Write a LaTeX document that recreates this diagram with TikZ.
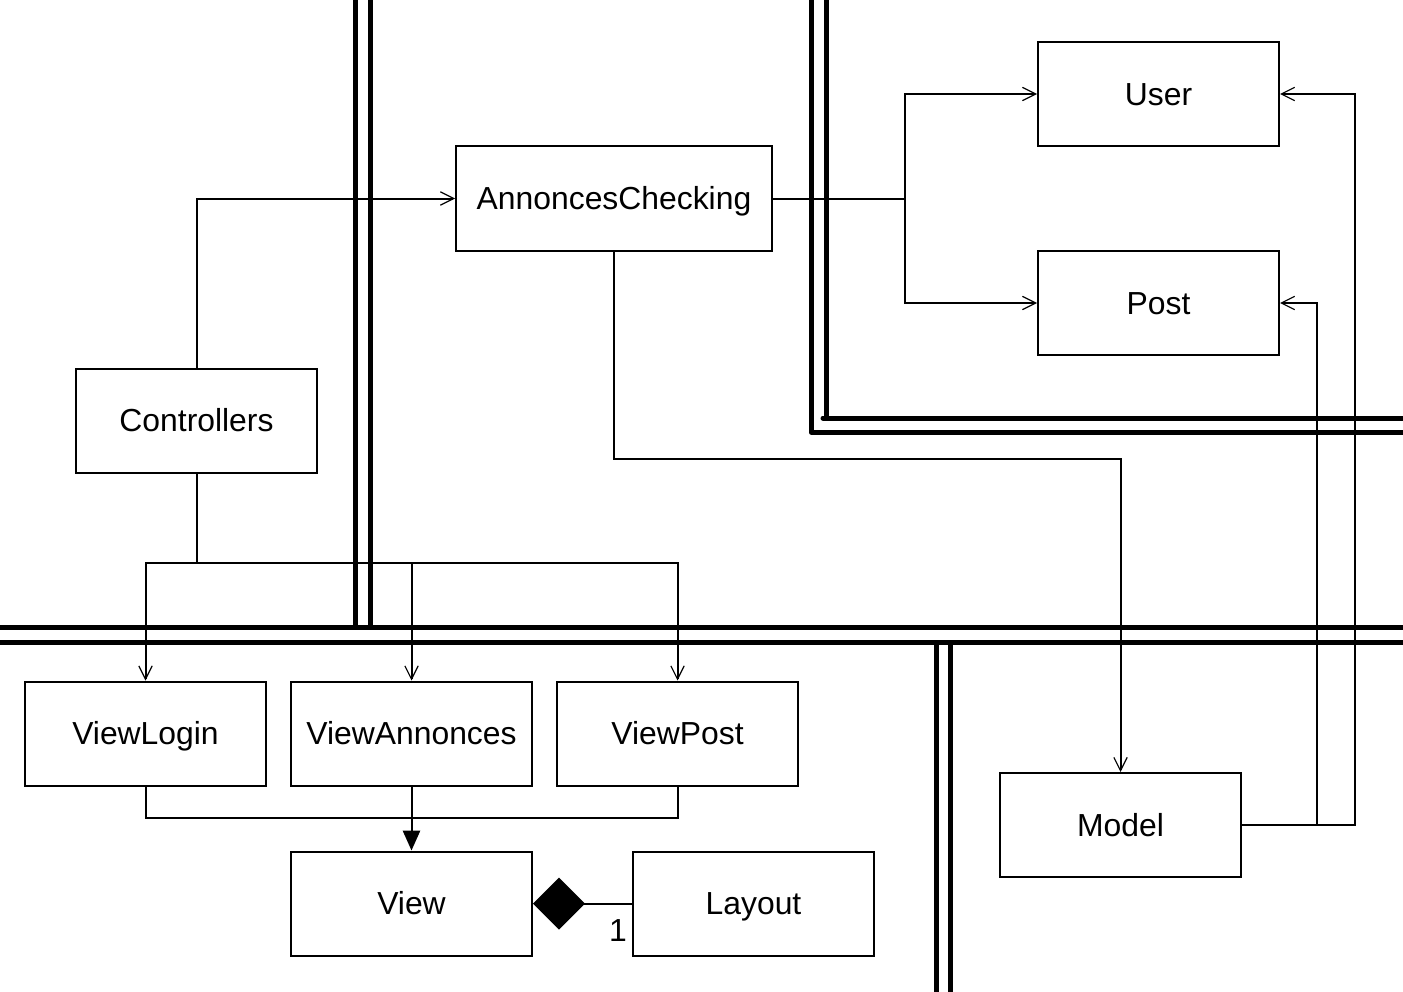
\documentclass[tikz,border=0pt]{standalone}
\usepackage{fontspec}
\setmainfont{Liberation Sans}
\usetikzlibrary{arrows.meta,calc}
\begin{document}
\begin{tikzpicture}[x=0.75pt,y=-0.75pt,
  cls/.style={draw, line width=1.5pt, fill=white, minimum width=180.75pt, minimum height=78pt, inner sep=0pt, text height=19.5pt, text depth=2.5pt, font=\fontsize{23.9}{28}\selectfont},
  wide/.style={cls, minimum width=237pt, minimum height=78.75pt},
  conn/.style={line width=1.5pt},
  arr/.style={conn, -{Straight Barb[length=10pt,width=10pt,line width=0.9pt]}},
  farr/.style={conn, -{Triangle[length=15pt,width=13pt]}},
  comp/.style={conn, -{Diamond[length=39pt,width=39pt]}},
  sep/.style={line width=3.75pt},
  lbl/.style={font=\fontsize{23.9}{28}\selectfont, inner sep=0pt}
]
\useasboundingbox (0,0) rectangle (1403,992);
% separators
\draw[sep] (355,-5) -- (355,627.5);
\draw[sep] (370,-5) -- (370,627.5);
\draw[sep] (-5,627.5) -- (1410,627.5);
\draw[sep] (-5,642.5) -- (1410,642.5);
\draw[sep] (936,642.5) -- (936,1000);
\draw[sep] (950.5,642.5) -- (950.5,1000);
\draw[sep, line join=round] (811,-5) -- (811,432) -- (1410,432);
\draw[sep] (826,-5) -- (826,418);
\draw[sep, line cap=round] (823,418) -- (1410,418);
% classes
\node[wide] (AC) at (614,198.5) {AnnoncesChecking};
\node[cls] (User) at (1158.5,94) {User};
\node[cls] (Post) at (1158.5,303) {Post};
\node[cls] (Controllers) at (196.5,420.5) {Controllers};
\node[cls] (ViewLogin) at (145.5,733.5) {ViewLogin};
\node[cls] (ViewAnnonces) at (411.5,733.5) {ViewAnnonces};
\node[cls] (ViewPost) at (677.5,733.5) {ViewPost};
\node[cls] (View) at (411.5,903.5) {View};
\node[cls] (Layout) at (753.5,903.5) {Layout};
\node[cls] (Model) at (1120.5,825) {Model};
\node[lbl] (mult) at (618,931) {1};
% junctions
\coordinate (jAC) at (905,198.5);
\coordinate (aM) at (1120.5,459);
\coordinate (mP) at (1317,825);
\coordinate (mU) at (1355,825);
\coordinate (cJ) at (196.5,563);
\coordinate (vJ) at (411.5,818);
% connectors
\draw[arr] (Controllers.north) |- (AC.west);
\draw[conn] (AC.east) -- (jAC);
\draw[arr] (jAC) |- (User.west);
\draw[arr] (jAC) |- (Post.west);
\draw[arr] (AC.south) |- (aM) -- (Model.north);
\draw[arr] (Model.east) -- (mU) |- (User.east);
\draw[arr] (Model.east) -- (mP) |- (Post.east);
\draw[conn] (Controllers.south) -- (cJ);
\draw[arr] (cJ) -| (ViewLogin.north);
\draw[arr] (cJ) -| (ViewAnnonces.north);
\draw[arr] (cJ) -| (ViewPost.north);
\draw[conn] (ViewLogin.south) |- (vJ);
\draw[conn] (ViewPost.south) |- (vJ);
\draw[farr] (ViewAnnonces.south) -- (View.north);
\draw[comp] (Layout.west) -- (View.east);
\end{tikzpicture}
\end{document}
